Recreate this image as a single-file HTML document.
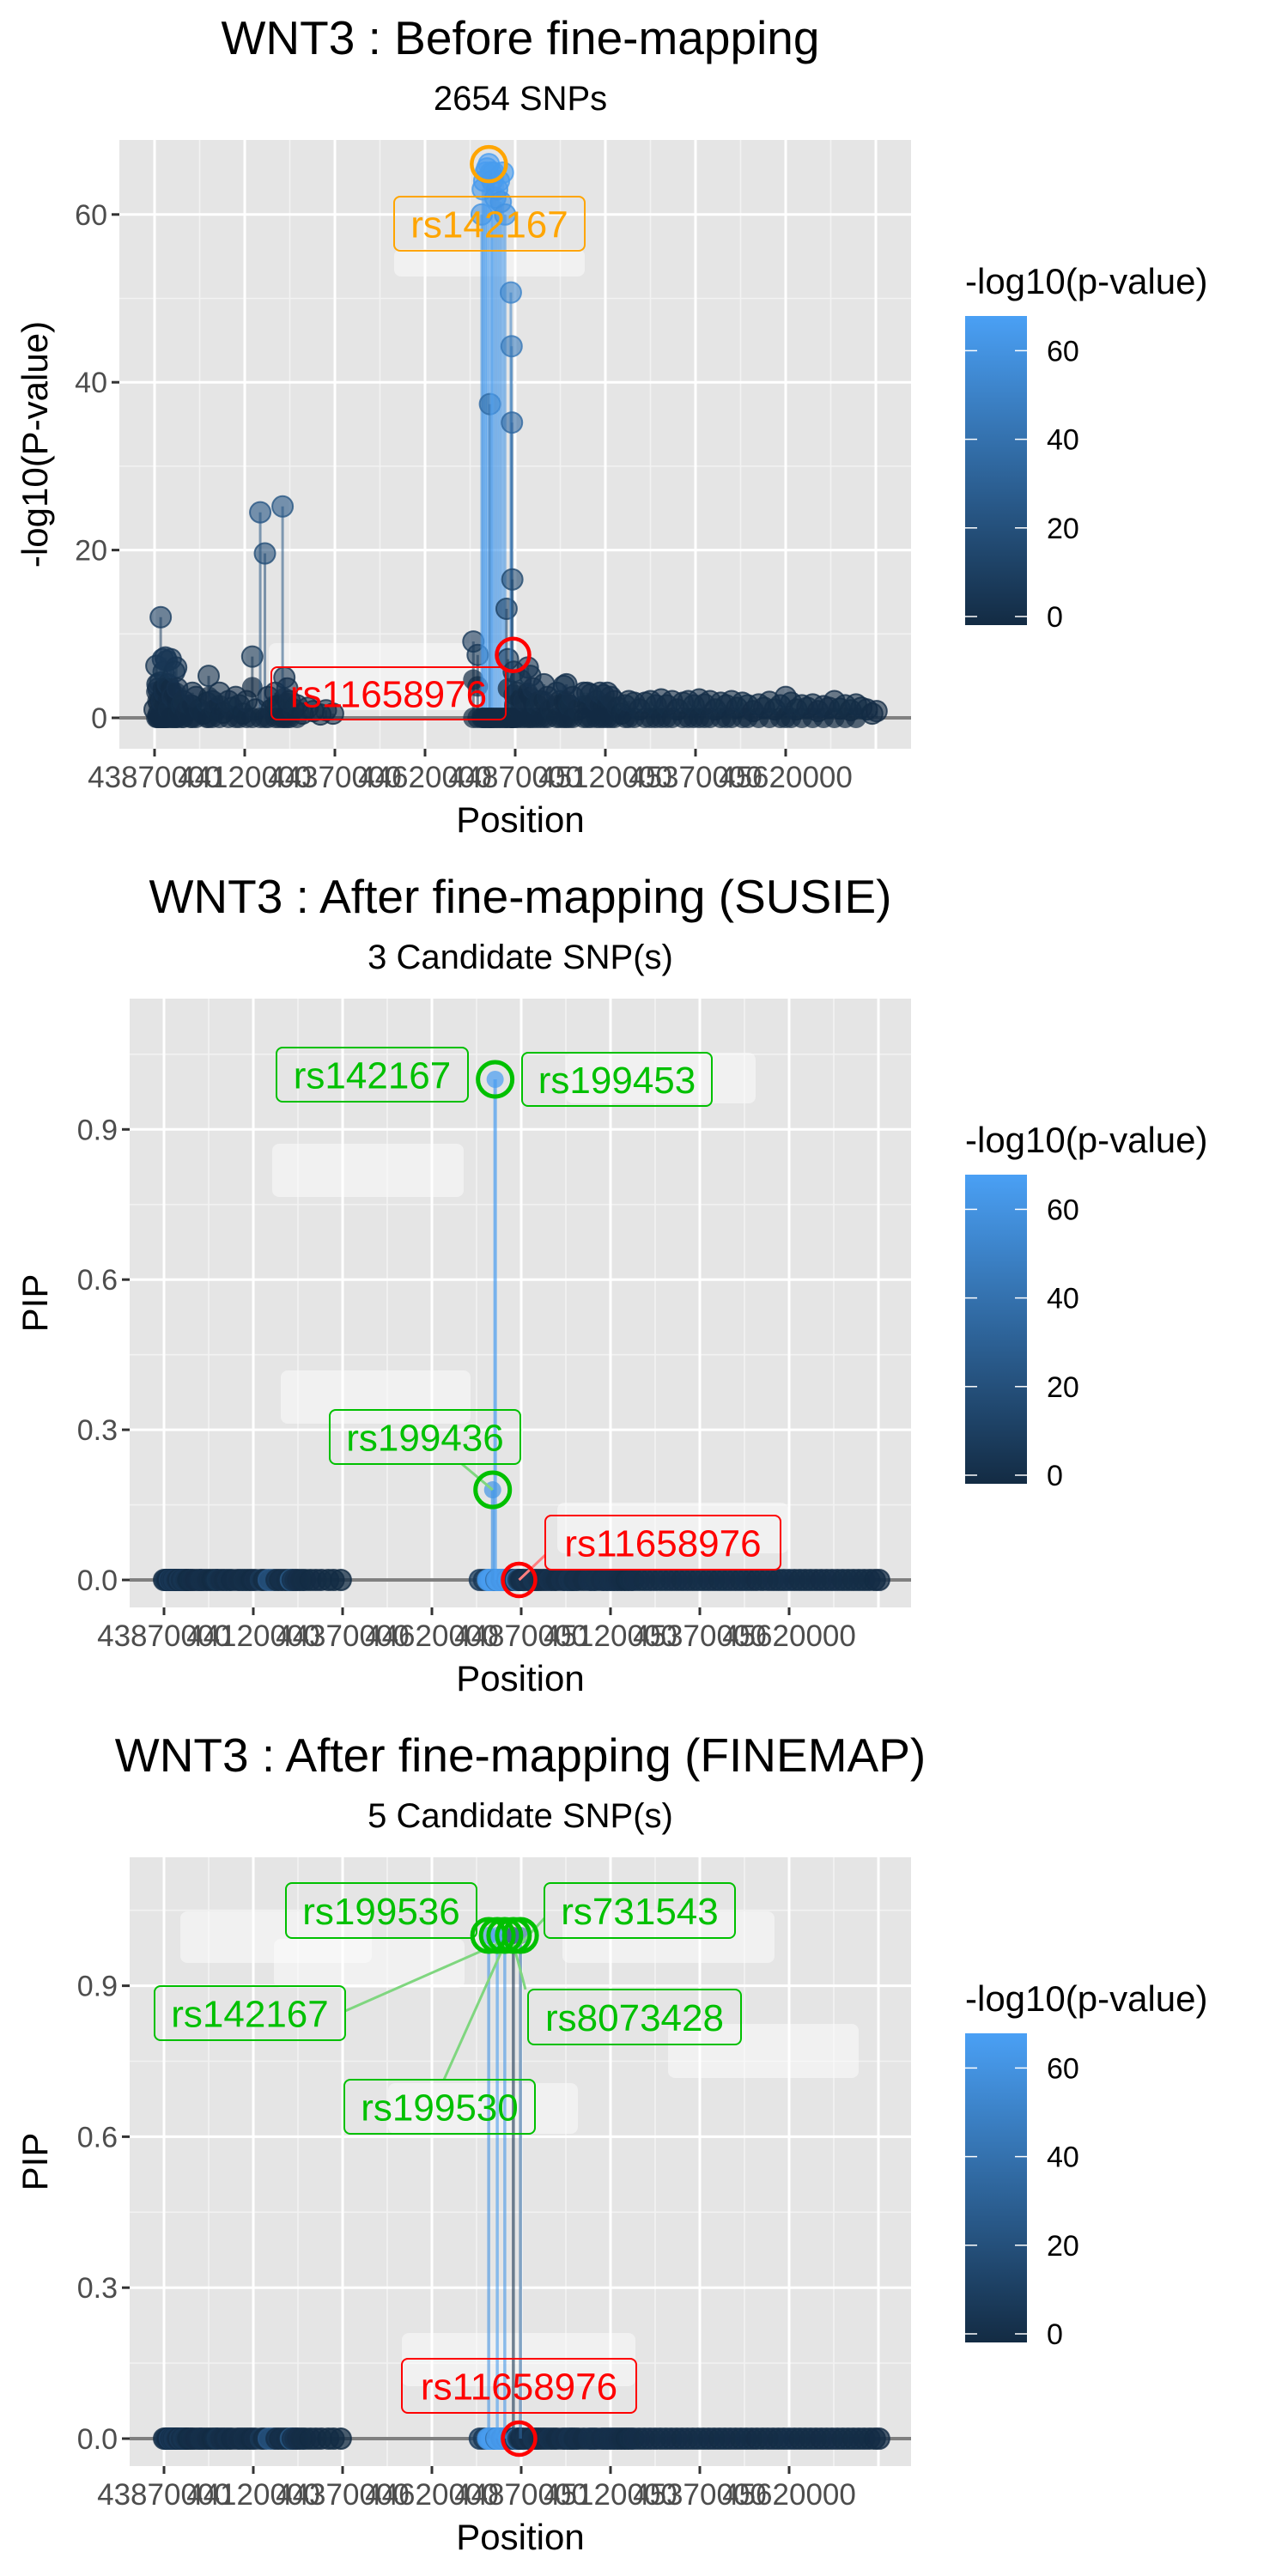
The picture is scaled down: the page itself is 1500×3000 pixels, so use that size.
<!DOCTYPE html>
<html><head><meta charset="utf-8">
<style>
html,body{margin:0;padding:0;background:#fff;}
svg{display:block;font-family:"Liberation Sans",Arial,sans-serif;}
</style></head>
<body>
<svg id="root" width="1500" height="3000" viewBox="0 0 1500 3000" xmlns="http://www.w3.org/2000/svg"></svg>
<script>
// ---------- DATA ----------
const xTickLabels = ["43870000","44120000","44370000","44620000","44870000","45120000","45370000","45620000"];
const xTickValues = [43870000,44120000,44370000,44620000,44870000,45120000,45370000,45620000];
// background SNP positions (kb) and -log10 p
const snpPosKb = [43870,43875,43878,43880,43882,43885,43887,43890,43893,43895,43898,43900,43904,43907,43910,43915,43920,43925,43930,43933,43938,43945,43950,43960,43970,43975,43985,43995,44005,44015,44020,44030,44040,44050,44060,44075,44085,44095,44105,44115,44125,44141,44150,44163,44176,44185,44195,44205,44215,44225,44230,44238,44245,44255,44265,44280,44295,44310,44330,44345,44365,
44754,44766,44777,44780,44784,44788,44792,44797,44800,44803,44806,44810,44815,44820,44825,44830,44836,44842,44846,44850,44858,44860,44861,44862,44866,
44870,44875,44885,44895,44905,44912,44920,44930,44940,44950,44960,44970,44985,44995,45005,45012,45020,45030,45045,45060,45070,45080,45095,45105,45115,45125,45135,45145,45155,45165,45175,45185,45200,45215,45230,45245,45260,45275,45290,45305,45320,45335,45350,45365,45380,45395,45410,45425,45440,45455,45470,45485,45500,45515,45530,45545,45560,45575,45590,45605,45620,45635,45650,45665,45680,45695,45710,45725,45740,45755,45770,45785,45800,45815,45830,45845,45860,45872];
const snpLogP = [1,6.2,4,3.5,0.5,4.2,12,2,7,5.5,3,7.2,6.8,4,1,7,2.5,5.5,6,3.5,0.5,1.5,2,0.8,1.5,3,2.5,1,0.5,1.8,5,2,1,3,0.6,2,1.2,2.5,1.5,0.5,2,7.3,1,24.5,19.6,2.5,1,3,1.5,25.2,4.8,3.5,2,1,1.5,0.5,1.2,0.8,0.4,0.9,0.5,
9.1,7.5,60,63,64,65,65.5,66,37.4,65,64,65,62,63,64,61.5,65,60,13,7,50.7,44.3,35.2,16.5,5.5,
1.5,3,4.5,2,6,5,3.5,1.5,2,4,2.5,1,3,2,3.8,4,1.5,2.5,1,3,3,2.8,2,3,2.7,3,2.5,2,1.2,0.5,1.5,2,1.8,1,1.8,2,1.5,2.2,1.5,2,1,1.8,2,1.5,2.2,1.6,2,1,1.8,1.5,2,1.2,1.8,1.5,0.8,1.6,1.2,1.9,1,1.5,2.5,1.8,1,1.5,1.2,1.6,0.8,1.4,1.2,2,1.1,1.5,0.9,1.6,1.2,1,0.5,0.8];
const leadSnp = {name:"rs142167", posKb:44797, logp:66};
const trueSnp = {name:"rs11658976", posKb:44864, logp:7.5};
const susieNames = ["rs142167","rs199436"];
const susiePosKb = [44797,44790];
const susiePIP = [1.0,0.18];
const susieLogP = [66,62];
const fmNames = ["rs199536","rs142167","rs199530","rs8073428","rs731543"];
const fmPosKb = [44779,44803,44824,44848,44868];
const fmPIP = [1.0,1.0,1.0,1.0,1.0];
const fmLogP = [60,65,62,5,35];
const colorTicks = [0,20,40,60];

// ---------- HELPERS ----------
const NS="http://www.w3.org/2000/svg";
const root=document.getElementById('root');
function el(tag,attrs,parent){const e=document.createElementNS(NS,tag);for(const k in attrs)e.setAttribute(k,attrs[k]);(parent||root).appendChild(e);return e;}
function txt(s,attrs,parent){const e=el('text',attrs,parent);e.textContent=s;return e;}
const C0=[19,43,67],C1=[74,160,245],VMAX=67.6;
function col(v){const t=Math.max(0,Math.min(1,v/VMAX));return 'rgb('+C0.map((c,i)=>Math.round(c+(C1[i]-c)*t)).join(',')+')';}

function panel(cfg){
  const g=el('g',{});
  
  
  const L=cfg.left,R=1061,T=cfg.top,B=cfg.top+709;
  const X=p=>cfg.x0+(p-43870000)/250000*cfg.xs;
  const Y=v=>cfg.y0-v*cfg.ys;
  const t1=txt(cfg.title,{x:606,y:cfg.top-100,'font-size':55,'text-anchor':'middle',fill:'#000'},g);
  
  const t2=txt(cfg.sub,{x:606,y:cfg.top-35,'font-size':40,'text-anchor':'middle',fill:'#000'},g);
  
  const bg=el('rect',{x:L,y:T,width:R-L,height:B-T,fill:'#e5e5e5'},g);
  
  for(let k=-1;k<=8;k++){const xm=X(43870000+(k+0.5)*250000);if(xm>L&&xm<R)el('line',{x1:xm,x2:xm,y1:T,y2:B,stroke:'#f2f2f2','stroke-width':1.6},g);}
  cfg.minorY.forEach(v=>{const y=Y(v);if(y>T&&y<B)el('line',{x1:L,x2:R,y1:y,y2:y,stroke:'#f2f2f2','stroke-width':1.6},g);});
  for(let k=0;k<=8;k++){const xm=X(43870000+k*250000);el('line',{x1:xm,x2:xm,y1:T,y2:B,stroke:'#fff','stroke-width':3},g);}
  cfg.ticksY.forEach(v=>{const y=Y(v);el('line',{x1:L,x2:R,y1:y,y2:y,stroke:'#fff','stroke-width':3},g);});
  (cfg.faint||[]).forEach(b=>el('rect',{x:b[0],y:b[1],width:b[2]-b[0],height:b[3]-b[1],rx:8,fill:'rgba(255,255,255,0.45)'},g));
  const hl=el('line',{x1:L,x2:R,y1:Y(0),y2:Y(0),stroke:'#808080','stroke-width':4},g);
  
  const pts=el('g',{},g);
  
  snpPosKb.forEach((pk,i)=>{
    const v=cfg.useLogP?snpLogP[i]:0;
    const x=X(pk*1000),c=col(snpLogP[i]);
    if(v>0.3){el('line',{x1:x,x2:x,y1:Y(0),y2:Y(v),stroke:c,'stroke-width':3,'stroke-opacity':0.55},pts);}
    if(cfg.useLogP&&v>1.2){el('circle',{cx:x,cy:Y(0),r:12,fill:'#132b43','fill-opacity':0.7},pts);}
    if(cfg.useLogP&&v>2.5&&v<10){el('circle',{cx:x,cy:Y(v/2),r:12,fill:'#132b43','fill-opacity':0.7},pts);}
    const cc=el('circle',{cx:x,cy:Y(v),r:12,fill:c,'fill-opacity':cfg.useLogP?0.6:0.75,stroke:c,'stroke-opacity':0.8,'stroke-width':2},pts);
    
    
  });
  cfg.extra&&cfg.extra(g,X,Y);
  cfg.ticksY.forEach((v,i)=>{const y=Y(v);el('line',{x1:L-9,x2:L,y1:y,y2:y,stroke:'#333','stroke-width':3},g);
    const tl=txt(cfg.tickLabY[i],{x:L-14,y:y+12,'font-size':34,'text-anchor':'end',fill:'#4d4d4d'},g);
    });
  xTickValues.forEach((p,i)=>{const x=X(p);el('line',{x1:x,x2:x,y1:B,y2:B+9,stroke:'#333','stroke-width':3},g);
    const tl=txt(xTickLabels[i],{x:x,y:B+45,'font-size':35,'text-anchor':'middle',fill:'#4d4d4d'},g);
    });
  const xt=txt('Position',{x:606,y:B+97,'font-size':42,'text-anchor':'middle',fill:'#000'},g);
  
  const yc=(T+B)/2;
  const yt=txt(cfg.yTitle,{x:0,y:0,'font-size':42,'text-anchor':'middle',fill:'#000',transform:'translate(55,'+yc+') rotate(-90)'},g);
  
  const lg=el('g',{},g);
  
  const lt=cfg.top-163;
  txt('-log10(p-value)',{x:1124,y:lt+342,'font-size':42,fill:'#000'},lg);
  el('rect',{x:1124,y:lt+368,width:72,height:360,fill:'url(#grad)'},lg);
  colorTicks.forEach(v=>{const y=lt+718-v*5.16;
    el('line',{x1:1124,x2:1138,y1:y,y2:y,stroke:'#fff','stroke-width':1.5},lg);
    el('line',{x1:1182,x2:1196,y1:y,y2:y,stroke:'#fff','stroke-width':1.5},lg);
    txt(String(v),{x:1219,y:y+12,'font-size':34,fill:'#000'},lg);});
}
function label(g,name,color,box,fs){
  const r=el('rect',{x:box[0],y:box[1],width:box[2]-box[0],height:box[3]-box[1],rx:7,fill:'none',stroke:color,'stroke-width':2},g);
  
  const t=txt(name,{x:(box[0]+box[2])/2,y:(box[1]+box[3])/2+16,'font-size':fs||44,'text-anchor':'middle',fill:color},g);
  
}
const defs=el('defs',{});
const lgd=el('linearGradient',{id:'grad',x1:0,y1:1,x2:0,y2:0},defs);
el('stop',{offset:0,'stop-color':'rgb(19,43,67)'},lgd);el('stop',{offset:1,'stop-color':'rgb(74,160,245)'},lgd);

panel({name:'before-finemapping-panel',title:'WNT3 : Before fine-mapping',sub:'2654 SNPs',left:139,top:163,x0:180,xs:105,y0:836,ys:9.77,
  ticksY:[0,20,40,60],tickLabY:['0','20','40','60'],minorY:[10,30,50],yTitle:'-log10(P-value)',useLogP:true,
  faint:[[459,290,681,322],[313,749,595,827]],
  extra:(g,X,Y)=>{
    const ox=X(leadSnp.posKb*1000),oy=Y(leadSnp.logp);
    const c=el('circle',{cx:ox,cy:oy,r:20,fill:'none',stroke:'#ffa500','stroke-width':4.5},g);
    
    label(g,leadSnp.name,'#ffa500',[459,229,681,292]);
    const rx=X(trueSnp.posKb*1000),ry=Y(trueSnp.logp);
    const c2=el('circle',{cx:rx,cy:ry,r:19,fill:'none',stroke:'#ff0000','stroke-width':4.5},g);
    
    label(g,trueSnp.name,'#ff0000',[316,777,589,838]);
  }});

panel({name:'susie-panel',title:'WNT3 : After fine-mapping (SUSIE)',sub:'3 Candidate SNP(s)',left:151,top:1163,x0:191,xs:104,y0:1840,ys:583,
  ticksY:[0,0.3,0.6,0.9],tickLabY:['0.0','0.3','0.6','0.9'],minorY:[0.15,0.45,0.75,1.05],yTitle:'PIP',useLogP:false,
  faint:[[659,1226,880,1285],[317,1332,540,1394],[327,1596,548,1658],[649,1750,918,1809]],
  extra:(g,X,Y)=>{
    susiePosKb.forEach((pk,i)=>{const x=X(pk*1000),c=col(susieLogP[i]);
      el('line',{x1:x,x2:x,y1:Y(0),y2:Y(susiePIP[i]),stroke:c,'stroke-width':4,'stroke-opacity':0.7},g);
      el('circle',{cx:x,cy:Y(susiePIP[i]),r:10,fill:c,'fill-opacity':0.7},g);});
    el('line',{x1:538,y1:1705,x2:X(susiePosKb[1]*1000),y2:Y(susiePIP[1]),stroke:'#7fd67f','stroke-width':3},g);
    el('line',{x1:635,y1:1811,x2:X(trueSnp.posKb*1000),y2:Y(0),stroke:'#ff7f7f','stroke-width':3},g);
    susiePosKb.forEach((pk,i)=>{const c=el('circle',{cx:X(pk*1000),cy:Y(susiePIP[i]),r:20,fill:'none',stroke:'#00c000','stroke-width':5},g);
      });
    const c2=el('circle',{cx:X(trueSnp.posKb*1000),cy:Y(0),r:19,fill:'none',stroke:'#ff0000','stroke-width':4.5},g);
    
    label(g,'rs142167','#00c000',[322,1220,545,1283]);
    label(g,'rs199453','#00c000',[608,1226,829,1288]);
    label(g,'rs199436','#00c000',[384,1642,606,1705]);
    label(g,trueSnp.name,'#ff0000',[635,1765,909,1828]);
  }});

panel({name:'finemap-panel',title:'WNT3 : After fine-mapping (FINEMAP)',sub:'5 Candidate SNP(s)',left:151,top:2163,x0:191,xs:104,y0:2840,ys:586,
  ticksY:[0,0.3,0.6,0.9],tickLabY:['0.0','0.3','0.6','0.9'],minorY:[0.15,0.45,0.75,1.05],yTitle:'PIP',useLogP:false,
  faint:[[210,2226,433,2286],[319,2258,541,2315],[655,2226,902,2286],[778,2357,1000,2420],[452,2426,673,2485],[468,2717,740,2779]],
  extra:(g,X,Y)=>{
    fmPosKb.forEach((pk,i)=>{const x=X(pk*1000),c=col(fmLogP[i]);
      el('line',{x1:x,x2:x,y1:Y(0),y2:Y(fmPIP[i]),stroke:c,'stroke-width':3.5,'stroke-opacity':0.6},g);
      el('circle',{cx:x,cy:Y(fmPIP[i]),r:10,fill:c,'fill-opacity':0.6},g);});
    const lead=[[402,2342,1],[612,2317,3],[517,2422,2],[634,2234,4]];
    lead.forEach(l=>el('line',{x1:l[0],y1:l[1],x2:X(fmPosKb[l[2]]*1000),y2:Y(fmPIP[l[2]])+10,stroke:'#7fd67f','stroke-width':3},g));
    fmPosKb.forEach((pk,i)=>{const c=el('circle',{cx:X(pk*1000),cy:Y(fmPIP[i]),r:19,fill:'none',stroke:'#00c000','stroke-width':5},g);
      });
    const c2=el('circle',{cx:X(trueSnp.posKb*1000),cy:Y(0),r:19,fill:'none',stroke:'#ff0000','stroke-width':4.5},g);
    
    label(g,'rs199536','#00c000',[333,2193,555,2257]);
    label(g,'rs731543','#00c000',[634,2193,856,2257]);
    label(g,'rs142167','#00c000',[180,2313,402,2376]);
    label(g,'rs8073428','#00c000',[615,2317,863,2381]);
    label(g,'rs199530','#00c000',[401,2422,623,2485]);
    label(g,trueSnp.name,'#ff0000',[468,2747,741,2810]);
  }});
</script>
</body></html>
